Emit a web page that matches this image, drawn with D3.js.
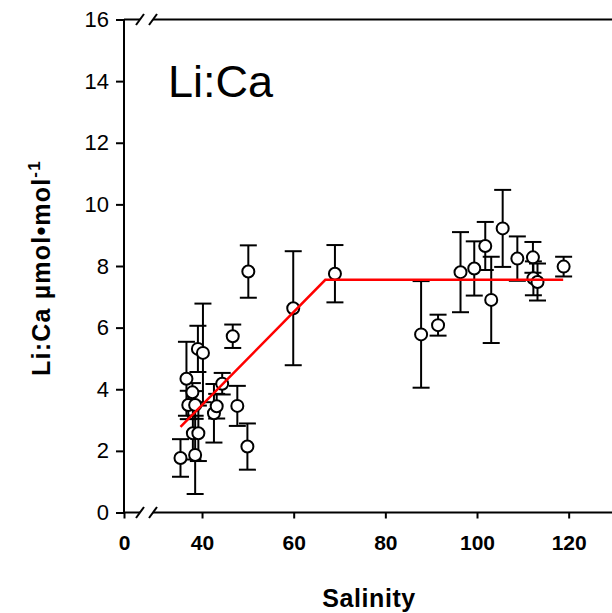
<!DOCTYPE html>
<html>
<head>
<meta charset="utf-8">
<script src="https://cdn.jsdelivr.net/npm/d3@7"></script>
<style>
  body { margin: 0; background: #fff; }
  svg { display: block; font-family: "Liberation Sans", Arial, sans-serif; }
</style>
</head>
<body>
<svg id="chart" width="612" height="613"></svg>
<script>
// data: salinity, Li:Ca, error (+/-)
const salinity = [35.3, 36.6, 37.0, 37.9, 38.0, 38.5, 38.5, 39.1, 39.2, 40.2, 42.6, 43.2, 44.4, 46.7, 47.7, 49.9,
  50.1, 59.9, 69.0, 87.8, 91.5, 96.4, 99.4, 101.8, 103.1, 105.6, 108.8, 112.2, 112.3, 113.2, 118.9];
const liCa = [1.77, 4.34, 3.49, 3.90, 2.57, 3.49, 1.87, 5.31, 2.57, 5.18, 3.22, 3.45, 4.18, 5.72, 3.46, 2.14,
  7.82, 6.63, 7.75, 5.78, 6.08, 7.80, 7.92, 8.65, 6.90, 9.22, 8.24, 8.28, 7.60, 7.48, 7.98];
const liCaErr = [0.61, 1.2, 0.46, 0.3, 0.85, 0.45, 1.27, 0.75, 0.9, 1.6, 0.95, 0.4, 0.35, 0.38, 0.65, 0.75,
  0.85, 1.85, 0.93, 1.73, 0.34, 1.3, 0.88, 0.78, 1.4, 1.25, 0.72, 0.5, 0.55, 0.6, 0.32];

// broken-stick fit
const fitX = [35.3, 66.9, 118.8];
const fitY = [2.78, 7.55, 7.55];

const xTicks = [0, 40, 60, 80, 100, 120];
const yTicks = [0, 2, 4, 6, 8, 10, 12, 14, 16];

const svg = d3.select('#chart');

// x axis is broken between 0 and 30
const x = d3.scaleLinear().domain([0, 30, 130]).range([124, 156.2, 614.5]);
const y = d3.scaleLinear().domain([0, 16]).range([512.5, 19.5]);

const xL = x(0), xR = 614, yT = y(16), yB = y(0);
const brk1 = 140, brk2 = 153;

// frame lines with break on top and bottom
const frame = svg.append('g').attr('stroke', '#000').attr('stroke-width', 2).attr('fill', 'none');
frame.append('line').attr('x1', xL).attr('x2', xL).attr('y1', yT).attr('y2', yB);
[yT, yB].forEach(yy => {
  frame.append('line').attr('x1', xL).attr('x2', brk1).attr('y1', yy).attr('y2', yy);
  frame.append('line').attr('x1', brk2).attr('x2', xR).attr('y1', yy).attr('y2', yy);
  [brk1, brk2].forEach(bx => {
    frame.append('line')
      .attr('x1', bx - 4).attr('y1', yy + 5.5)
      .attr('x2', bx + 4).attr('y2', yy - 5.5);
  });
});

// y axis
const yAxis = svg.append('g')
  .attr('transform', `translate(${xL},0)`)
  .call(d3.axisLeft(y).tickValues(yTicks).tickSize(8).tickPadding(7).tickFormat(d3.format('d')));
yAxis.select('.domain').remove();
yAxis.selectAll('line').attr('stroke-width', 2);
yAxis.selectAll('text')
  .attr('font-size', 22)
  .attr('font-family', '"Liberation Sans", Arial, sans-serif')
  .attr('fill', '#000');

// x axis
const xAxis = svg.append('g')
  .attr('transform', `translate(0,${yB})`)
  .call(d3.axisBottom(x).tickValues(xTicks).tickSize(6).tickPadding(17).tickFormat(d3.format('d')));
xAxis.select('.domain').remove();
xAxis.selectAll('line').attr('stroke-width', 2);
xAxis.selectAll('text')
  .attr('font-size', 21)
  .attr('font-weight', 'bold')
  .attr('font-family', '"Liberation Sans", Arial, sans-serif')
  .attr('fill', '#000');

// axis titles
svg.append('text')
  .attr('x', 369).attr('y', 607)
  .attr('text-anchor', 'middle')
  .attr('font-size', 25).attr('font-weight', 'bold')
  .attr('letter-spacing', 0.6)
  .text('Salinity');

const yt = svg.append('text')
  .attr('transform', 'translate(50,268) rotate(-90)')
  .attr('text-anchor', 'middle')
  .attr('font-size', 25).attr('font-weight', 'bold')
  .attr('letter-spacing', 1.2);
yt.append('tspan').text('Li:Ca µmol•mol');
yt.append('tspan').attr('font-size', 17).attr('dy', -10).text('-1');

// panel label
svg.append('text')
  .attr('x', 168).attr('y', 97)
  .attr('font-size', 45)
  .text('Li:Ca');

const pts = salinity.map((s, i) => ({ s, v: liCa[i], e: liCaErr[i] }));

// error bars
const eb = svg.append('g').attr('stroke', '#000').attr('stroke-width', 2);
pts.forEach(d => {
  const cx = x(d.s);
  eb.append('line').attr('x1', cx).attr('x2', cx).attr('y1', y(d.v - d.e)).attr('y2', y(d.v + d.e));
  [d.v - d.e, d.v + d.e].forEach(v => {
    eb.append('line').attr('x1', cx - 8.5).attr('x2', cx + 8.5).attr('y1', y(v)).attr('y2', y(v));
  });
});

// points
svg.append('g')
  .selectAll('circle')
  .data(pts)
  .join('circle')
  .attr('cx', d => x(d.s))
  .attr('cy', d => y(d.v))
  .attr('r', 6)
  .attr('fill', '#fff')
  .attr('stroke', '#000')
  .attr('stroke-width', 2);

// fit line
svg.append('path')
  .datum(fitX.map((s, i) => [s, fitY[i]]))
  .attr('fill', 'none')
  .attr('stroke', '#ff0000')
  .attr('stroke-width', 2.5)
  .attr('d', d3.line().x(d => x(d[0])).y(d => y(d[1])));
</script>
</body>
</html>
